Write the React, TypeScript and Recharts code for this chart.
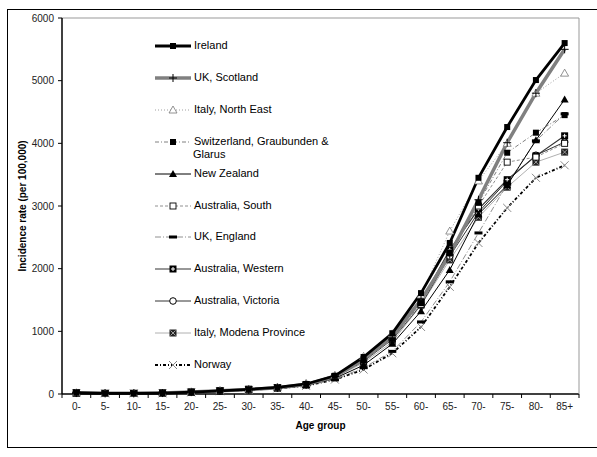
import { LineChart, Line, XAxis, YAxis, ReferenceLine } from 'recharts'

const FONT = '"Liberation Sans", Arial, sans-serif'

const ages = ['0-', '5-', '10-', '15-', '20-', '25-', '30-', '35-', '40-', '45-', '50-', '55-', '60-', '65-', '70-', '75-', '80-', '85+']
const yTicks = [0, 1000, 2000, 3000, 4000, 5000, 6000]

const ireland = [20, 10, 10, 15, 30, 50, 75, 105, 160, 290, 590, 970, 1610, 2410, 3450, 4260, 5010, 5600]
const ukScotland = [15, 10, 10, 15, 30, 50, 70, 100, 150, 280, 560, 930, 1500, 2220, 3100, 4010, 4800, 5500]
const italyNorthEast = [20, 10, 10, 15, 35, 55, 80, 110, 170, 300, 600, 960, 1580, 2600, 3400, 4000, 4800, 5120]
const switzerland = [15, 10, 10, 15, 25, 50, 70, 95, 150, 270, 530, 880, 1450, 2250, 3050, 3850, 4170, 4450]
const newZealand = [20, 10, 10, 15, 30, 45, 70, 95, 140, 250, 460, 800, 1320, 1980, 2870, 3330, 4050, 4700]
const australiaSouth = [15, 10, 10, 15, 30, 50, 75, 100, 150, 270, 520, 880, 1430, 2250, 3000, 3700, 3780, 4000]
const ukEngland = [15, 10, 10, 15, 25, 45, 65, 90, 130, 230, 420, 680, 1150, 1790, 2570, 3350, 4040, 4470]
const australiaWestern = [15, 10, 10, 15, 30, 50, 75, 100, 150, 280, 540, 900, 1480, 2300, 2950, 3420, 3800, 4120]
const australiaVictoria = [15, 10, 10, 15, 30, 50, 70, 100, 150, 270, 520, 870, 1420, 2200, 2900, 3400, 3810, 4020]
const italyModena = [20, 10, 10, 15, 30, 50, 70, 95, 145, 260, 500, 830, 1420, 2140, 2820, 3300, 3700, 3860]
const norway = [15, 10, 10, 10, 25, 45, 65, 90, 130, 230, 390, 650, 1070, 1710, 2410, 2970, 3450, 3650]

type Kind = 'square' | 'plus' | 'openTri' | 'tri' | 'openSquare' | 'dash' | 'plusSquare' | 'circle' | 'xSquare' | 'cross'

const series = [
    { key: 'ireland', name: 'Ireland', values: ireland, stroke: '#000', width: 2.8, dash: undefined, kind: 'square' as Kind },
    { key: 'scotland', name: 'UK, Scotland', values: ukScotland, stroke: '#808080', width: 3.5, dash: undefined, kind: 'plus' as Kind },
    { key: 'italyNE', name: 'Italy, North East', values: italyNorthEast, stroke: '#a0a0a0', width: 1, dash: '1 2', kind: 'openTri' as Kind },
    { key: 'swiss', name: 'Switzerland, Graubunden &\nGlarus', values: switzerland, stroke: '#808080', width: 1, dash: '4 2 1 2', kind: 'square' as Kind },
    { key: 'nz', name: 'New Zealand', values: newZealand, stroke: '#000', width: 1, dash: undefined, kind: 'tri' as Kind },
    { key: 'ausSouth', name: 'Australia, South', values: australiaSouth, stroke: '#909090', width: 1, dash: '3 2', kind: 'openSquare' as Kind },
    { key: 'england', name: 'UK, England', values: ukEngland, stroke: '#909090', width: 1, dash: '6 2 1 2', kind: 'dash' as Kind },
    { key: 'ausWest', name: 'Australia, Western', values: australiaWestern, stroke: '#333', width: 1.2, dash: undefined, kind: 'plusSquare' as Kind },
    { key: 'ausVic', name: 'Australia, Victoria', values: australiaVictoria, stroke: '#333', width: 1, dash: undefined, kind: 'circle' as Kind },
    { key: 'modena', name: 'Italy, Modena Province', values: italyModena, stroke: '#b0b0b0', width: 1, dash: undefined, kind: 'xSquare' as Kind },
    { key: 'norway', name: 'Norway', values: norway, stroke: '#000', width: 1.8, dash: '3 2 1 2', kind: 'cross' as Kind },
]

const data = ages.map((age, i) => {
    const row: any = { age }
    series.forEach(s => { row[s.key] = s.values[i] })
    return row
})

const W = 597
const H = 457
const margin = { top: 18, right: 0, left: 12, bottom: 28 }
const Y_W = 50
const R_W = 18
const PLOT_W = W - margin.left - Y_W - R_W - margin.right
const HALF = PLOT_W / ages.length / 2

function Marker({ cx, cy, kind }: { cx: number; cy: number; kind: Kind }) {
    if (cx == null || cy == null) return null
    const s = 3
    switch (kind) {
        case 'square':
            return <rect x={cx - s} y={cy - s} width={s * 2} height={s * 2} fill="#000" />
        case 'plus':
            return (
                <g stroke="#000" strokeWidth={1}>
                    <line x1={cx - 4} y1={cy} x2={cx + 4} y2={cy} />
                    <line x1={cx} y1={cy - 4} x2={cx} y2={cy + 4} />
                </g>
            )
        case 'openTri':
            return <polygon points={`${cx},${cy - 4} ${cx - 4},${cy + 3} ${cx + 4},${cy + 3}`} fill="#fff" stroke="#777" strokeWidth={0.8} />
        case 'tri':
            return <polygon points={`${cx},${cy - 4} ${cx - 4},${cy + 3} ${cx + 4},${cy + 3}`} fill="#000" />
        case 'openSquare':
            return <rect x={cx - s} y={cy - s} width={s * 2} height={s * 2} fill="#fff" stroke="#000" strokeWidth={0.9} />
        case 'dash':
            return <rect x={cx - 4} y={cy - 1.5} width={8} height={3} fill="#000" />
        case 'plusSquare':
            return (
                <g>
                    <rect x={cx - 3.5} y={cy - 3.5} width={7} height={7} fill="#000" />
                    <line x1={cx - 2} y1={cy} x2={cx + 2} y2={cy} stroke="#fff" strokeWidth={1} />
                    <line x1={cx} y1={cy - 2} x2={cx} y2={cy + 2} stroke="#fff" strokeWidth={1} />
                </g>
            )
        case 'circle':
            return <circle cx={cx} cy={cy} r={3.3} fill="#fff" stroke="#000" strokeWidth={1} />
        case 'xSquare':
            return (
                <g>
                    <rect x={cx - 3.5} y={cy - 3.5} width={7} height={7} fill="#222" />
                    <line x1={cx - 2.5} y1={cy - 2.5} x2={cx + 2.5} y2={cy + 2.5} stroke="#bbb" strokeWidth={0.8} />
                    <line x1={cx - 2.5} y1={cy + 2.5} x2={cx + 2.5} y2={cy - 2.5} stroke="#bbb" strokeWidth={0.8} />
                </g>
            )
        case 'cross':
            return (
                <g stroke="#888" strokeWidth={1}>
                    <line x1={cx - 4} y1={cy - 4} x2={cx + 4} y2={cy + 4} />
                    <line x1={cx - 4} y1={cy + 4} x2={cx + 4} y2={cy - 4} />
                </g>
            )
    }
    return null
}

function AgeTick({ x, y, payload, index }: any) {
    const last = index === ages.length - 1
    return (
        <g>
            <line x1={x - HALF} y1={y} x2={x - HALF} y2={y + 4} stroke="#000" />
            {last && <line x1={x + HALF} y1={y} x2={x + HALF} y2={y + 4} stroke="#000" />}
            <text x={x} y={y + 9} dy="0.71em" textAnchor="middle" fontSize={10} fill="#222" fontFamily={FONT}>
                {payload.value}
            </text>
        </g>
    )
}

function LegendBox() {
    return (
        <div style={{ position: 'absolute', left: 155, top: 0, fontFamily: FONT, fontSize: 11, color: '#000' }}>
            {series.map((s, i) => {
                const cy = 46 + i * 31.9
                const lines = s.name.split('\n')
                return (
                    <div key={s.key} style={{ position: 'absolute', top: cy - 7, left: 0, width: 200 }}>
                        <svg width={36} height={14} style={{ position: 'absolute', left: 0, top: 0 }}>
                            <line x1={0} y1={7} x2={36} y2={7} stroke={s.stroke} strokeWidth={s.width} strokeDasharray={s.dash} />
                            <Marker cx={18} cy={7} kind={s.kind} />
                        </svg>
                        <div style={{ position: 'absolute', left: 39, top: 0, lineHeight: '13px', whiteSpace: 'nowrap' }}>
                            {lines.map((l, j) => (
                                <div key={j} style={{ marginLeft: j > 0 ? -1 : 0 }}>{l}</div>
                            ))}
                        </div>
                    </div>
                )
            })}
        </div>
    )
}

export default function App() {
    return (
        <div style={{ position: 'absolute', left: 0, top: 0, width: W, height: H, overflow: 'hidden', background: '#fff' }}>
            <div style={{ position: 'absolute', left: 7, top: 9, width: 600, height: 437, border: '1.3px solid #000' }} />
            <div style={{ position: 'absolute', left: 0, top: 0 }}>
                <LineChart width={W} height={H} data={data} margin={margin}>
                    <XAxis
                        dataKey="age"
                        height={35}
                        padding={{ left: HALF, right: HALF }}
                        axisLine={{ stroke: '#000', strokeWidth: 1.5 }}
                        tickLine={false}
                        tickSize={0}
                        tickMargin={0}
                        interval={0}
                        tick={<AgeTick />}
                        label={{ value: 'Age group', position: 'insideBottom', offset: 0, style: { fontSize: 10, fontWeight: 'bold', fill: '#000', fontFamily: FONT } }}
                    />
                    <YAxis
                        width={Y_W}
                        domain={[0, 6000]}
                        ticks={yTicks}
                        interval={0}
                        axisLine={{ stroke: '#000', strokeWidth: 1.5 }}
                        tickLine={{ stroke: '#000' }}
                        tickSize={4}
                        tickMargin={4}
                        tick={{ fontSize: 10, fill: '#222', fontFamily: FONT }}
                        label={{ value: 'Incidence rate (per 100,000)', angle: -90, position: 'center', dx: -15, style: { fontSize: 10, fontWeight: 'bold', fill: '#000', fontFamily: FONT } }}
                    />
                    <YAxis
                        yAxisId="right"
                        orientation="right"
                        width={R_W}
                        domain={[0, 6000]}
                        tick={false}
                        tickLine={false}
                        axisLine={{ stroke: '#999', strokeWidth: 1 }}
                    />
                    <ReferenceLine y={6000} stroke="#999" strokeWidth={1} />
                    {[...series].reverse().map(s => (
                        <Line
                            key={s.key}
                            type="linear"
                            dataKey={s.key}
                            stroke={s.stroke}
                            strokeWidth={s.width}
                            strokeDasharray={s.dash}
                            dot={(p: any) => <Marker key={`${s.key}-${p.index}`} cx={p.cx} cy={p.cy} kind={s.kind} />}
                            activeDot={false}
                            isAnimationActive={false}
                        />
                    ))}
                </LineChart>
            </div>
            <LegendBox />
        </div>
    )
}
